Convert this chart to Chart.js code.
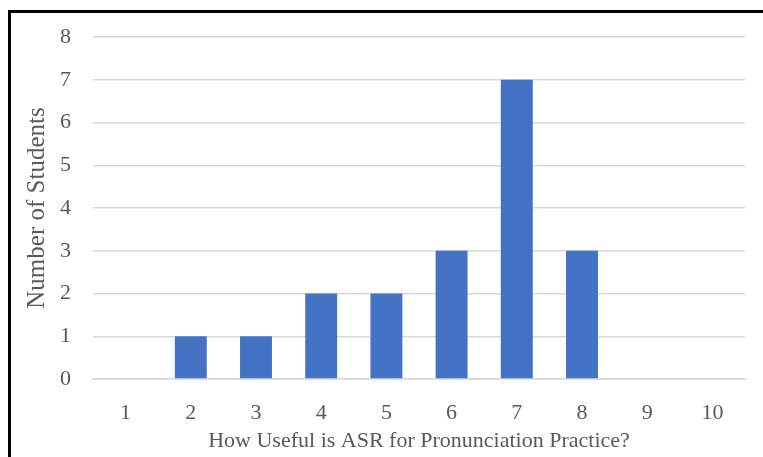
<!DOCTYPE html>
<html>
<head>
<meta charset="utf-8">
<script src="https://cdn.jsdelivr.net/npm/chart.js@4/dist/chart.umd.min.js"></script>
<style>
  html, body { margin: 0; padding: 0; background: #fff; overflow: hidden; }
  #wrap { position: relative; width: 763px; height: 457px; }
  #frame { position: absolute; left: 8px; top: 10px; width: 800px; height: 500px; border: 3px solid #000; box-sizing: border-box; pointer-events: none; }
  canvas { position: absolute; left: 0; top: 0; }
</style>
</head>
<body>
<div id="wrap">
  <canvas id="chart" width="763" height="457"></canvas>
  <div id="frame"></div>
</div>
<script>
// ratings 1..10 and how many students chose each
const ratings = ['1', '2', '3', '4', '5', '6', '7', '8', '9', '10'];
const students = [0, 1, 1, 2, 2, 3, 7, 3, 0, 0];
const yTicks = [0, 1, 2, 3, 4, 5, 6, 7, 8];

const serif = "'Liberation Serif', 'Times New Roman', serif";
const grey = '#595959';

new Chart(document.getElementById('chart').getContext('2d'), {
  type: 'bar',
  data: {
    labels: ratings,
    datasets: [{
      data: students,
      backgroundColor: '#4472C4',
      barPercentage: 0.49,
      categoryPercentage: 1,
    }],
  },
  options: {
    responsive: false,
    animation: false,
    layout: { padding: { top: 37, right: 18, bottom: 0, left: 0 } },
    plugins: { legend: { display: false }, tooltip: { enabled: false } },
    scales: {
      x: {
        grid: { display: false },
        border: { display: true, color: '#d9d9d9', width: 1.5 },
        ticks: { color: grey, font: { family: serif, size: 22 }, padding: 13 },
        title: { display: true, text: 'How Useful is ASR for Pronunciation Practice?', color: grey, font: { family: serif, size: 22 }, padding: { top: 0, bottom: 3 } },
        afterFit: s => { s.height = 78; },
      },
      y: {
        min: 0, max: 8,
        afterBuildTicks: s => { s.ticks = yTicks.map(v => ({ value: v })); },
        grid: { color: '#d9d9d9', lineWidth: 1.5, drawTicks: false },
        border: { display: false },
        ticks: { color: grey, font: { family: serif, size: 22 }, padding: 22 },
        title: { display: true, text: 'Number of Students', color: grey, font: { family: serif, size: 25 }, padding: { top: 22, bottom: 0 } },
        afterFit: s => { s.width = 93; },
      },
    },
  },
});
</script>
</body>
</html>
